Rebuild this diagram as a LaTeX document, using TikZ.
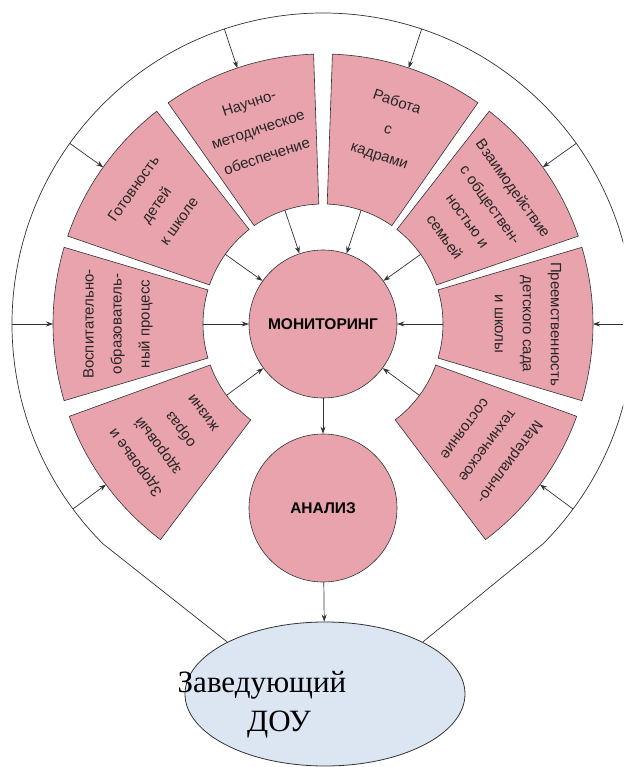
\documentclass[tikz,border=0pt]{standalone}
\usepackage{fontspec}
\setmainfont{Liberation Serif}
\setsansfont{Liberation Sans}
\usetikzlibrary{shapes.geometric,arrows.meta}

\definecolor{rosy}{RGB}{233,163,172}
\definecolor{pale}{RGB}{220,230,242}
\definecolor{rim}{RGB}{50,50,50}

\begin{document}
\begin{tikzpicture}[x=1pt,y=1pt,>={Stealth[length=7pt,width=5pt]},
  sector/.style={fill=rosy,draw=rim,line width=0.6pt},
  sectxt/.style={align=center,text=black!85,font=\sffamily\fontsize{15}{28}\selectfont},
  hub/.style={circle,fill=rosy,draw=rim,line width=0.6pt,minimum size=148pt,inner sep=0pt,
    font=\sffamily\bfseries\fontsize{15.5}{18}\selectfont},
  boss/.style={ellipse,fill=pale,draw=rim,line width=0.8pt,minimum width=280pt,minimum height=144pt,inner sep=0pt},
  every edge/.style={draw=rim,line width=0.7pt}]
	\clip (-323,-443) rectangle (300,324);

	\node[hub] (mon) at (0,0) {МОНИТОРИНГ};
	\node[hub] (ana) at (0,-184) {АНАЛИЗ};
	\node[boss] (doy) at (2,-370) {};
	\node[align=center,font=\fontsize{31}{39}\selectfont] (doytxt) at (-61,-381) {Заведующий\\\hspace*{34pt}ДОУ};

	% outer ring
	\draw[rim,line width=0.7pt] (doy.152) -- (225:311) arc[start angle=225,end angle=-45,radius=311] -- (doy.28);

	% sectors
	\filldraw[sector] (163.5:120) -- (163.5:270) arc[start angle=163.5,end angle=196.5,radius=270] -- (196.5:120) arc[start angle=196.5,end angle=163.5,radius=120] -- cycle;
	\node[sectxt,rotate=90] (s_1) at (180:205) {Воспитательно-\\образователь-\\ный процесс};
	\path (180:311) coordinate (c_1) (180:270) coordinate (o_1) (180:120) coordinate (i_1);

	\filldraw[sector] (200:120) -- (200:270) arc[start angle=200,end angle=233,radius=270] -- (233:120) arc[start angle=233,end angle=200,radius=120] -- cycle;
	\node[sectxt,rotate=126.5] (s_2) at (216.5:192) {Здоровье и\\здоровый\\образ\\жизни};
	\path (216.5:311) coordinate (c_2) (216.5:270) coordinate (o_2) (216.5:120) coordinate (i_2);

	\filldraw[sector] (128:120) -- (128:270) arc[start angle=128,end angle=161,radius=270] -- (161:120) arc[start angle=161,end angle=128,radius=120] -- cycle;
	\node[sectxt,rotate=54.5] (s_3) at (144.5:205) {Готовность\\детей\\к школе};
	\path (144.5:311) coordinate (c_3) (144.5:270) coordinate (o_3) (144.5:120) coordinate (i_3);

	\filldraw[sector] (92:120) -- (92:270) arc[start angle=92,end angle=125,radius=270] -- (125:120) arc[start angle=125,end angle=92,radius=120] -- cycle;
	\node[sectxt,rotate=18.5] (s_4) at (108.5:205) {Научно-\\методическое\\обеспечение};
	\path (108.5:311) coordinate (c_4) (108.5:270) coordinate (o_4) (108.5:120) coordinate (i_4);

	\filldraw[sector] (55:120) -- (55:270) arc[start angle=55,end angle=88,radius=270] -- (88:120) arc[start angle=88,end angle=55,radius=120] -- cycle;
	\node[sectxt,rotate=-18.5] (s_5) at (71.5:205) {Работа\\с\\кадрами};
	\path (71.5:311) coordinate (c_5) (71.5:270) coordinate (o_5) (71.5:120) coordinate (i_5);

	\filldraw[sector] (19:120) -- (19:270) arc[start angle=19,end angle=52,radius=270] -- (52:120) arc[start angle=52,end angle=19,radius=120] -- cycle;
	\node[sectxt,rotate=-54.5] (s_6) at (35.5:192) {Взаимодействие\\с обществен-\\ностью и\\семьей};
	\path (35.5:311) coordinate (c_6) (35.5:270) coordinate (o_6) (35.5:120) coordinate (i_6);

	\filldraw[sector] (-16.5:120) -- (-16.5:270) arc[start angle=-16.5,end angle=16.5,radius=270] -- (16.5:120) arc[start angle=16.5,end angle=-16.5,radius=120] -- cycle;
	\node[sectxt,rotate=-90] (s_7) at (0:205) {Преемственность\\детского сада\\и школы};
	\path (0:311) coordinate (c_7) (0:270) coordinate (o_7) (0:120) coordinate (i_7);

	\filldraw[sector] (-53:120) -- (-53:270) arc[start angle=-53,end angle=-20,radius=270] -- (-20:120) arc[start angle=-20,end angle=-53,radius=120] -- cycle;
	\node[sectxt,rotate=-126.5] (s_8) at (-36.5:205) {Материально-\\техническое\\состояние};
	\path (-36.5:311) coordinate (c_8) (-36.5:270) coordinate (o_8) (-36.5:120) coordinate (i_8);

	\path[->]
	(c_1) edge (o_1)  (i_1) edge (mon)
	(c_2) edge (o_2)  (i_2) edge (mon)
	(c_3) edge (o_3)  (i_3) edge (mon)
	(c_4) edge (o_4)  (i_4) edge (mon)
	(c_5) edge (o_5)  (i_5) edge (mon)
	(c_6) edge (o_6)  (i_6) edge (mon)
	(c_7) edge (o_7)  (i_7) edge (mon)
	(c_8) edge (o_8)  (i_8) edge (mon)
	(mon) edge (ana)
	(ana) edge (doy);
\end{tikzpicture}
\end{document}
